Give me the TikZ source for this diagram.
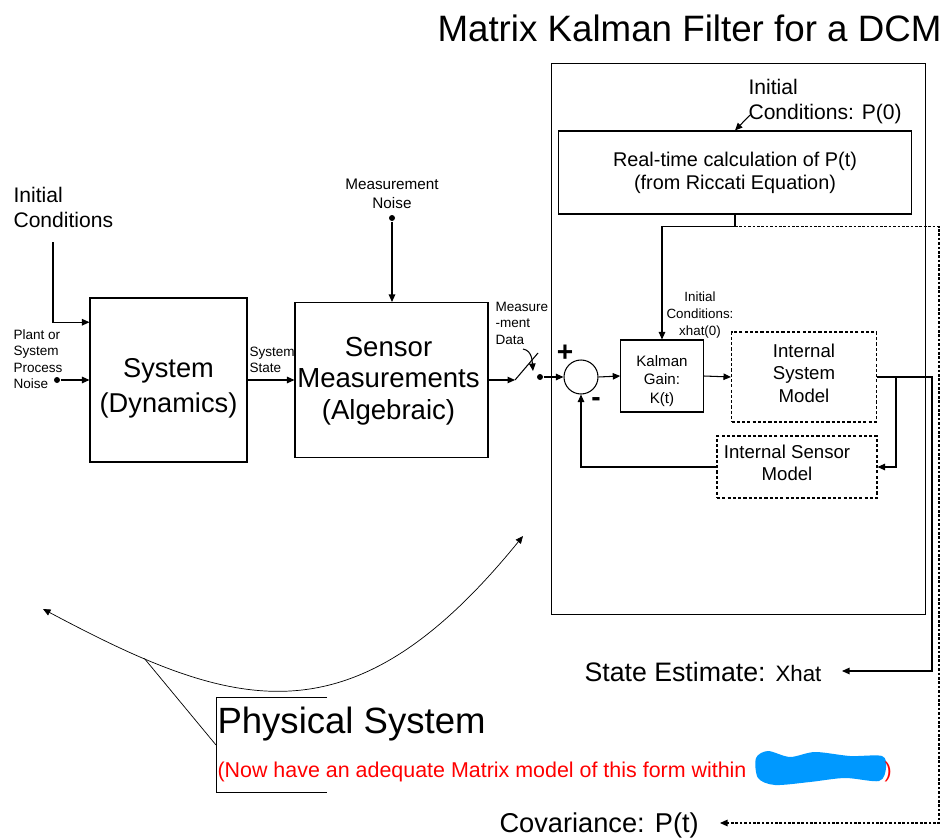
\documentclass[tikz,border=0pt]{standalone}
\usepackage{fontspec}
\setmainfont{Liberation Sans}
\usepackage{tikz}
\usetikzlibrary{arrows.meta,calc}
\definecolor{notered}{RGB}{255,0,0}
\definecolor{scribble}{RGB}{0,153,255}

\newcommand{\fsz}[2]{\fontsize{#1}{#2}\selectfont}

\begin{document}
\begin{tikzpicture}[x=0.02cm,y=-0.02cm,line width=0.6pt,
  flow/.style={-{Triangle[length=1.5mm,width=1.3mm]}},
  blk/.style={draw,rectangle,inner sep=0pt,align=center},
  model/.style={blk,dash pattern=on 1.8pt off 1.2pt},
  junc/.style={circle,fill,inner sep=0pt,minimum size=1.2mm},
  txt/.style={inner sep=0pt,align=left,anchor=west},
  inbox/.style={inner sep=0pt,align=center}]
  \useasboundingbox (0,0) rectangle (944,838);

  % ── Title ──
  \node[txt,font=\fsz{20.9}{25}] (title) at (437,28) {Matrix Kalman Filter for a DCM};

  % ── Plant: system and sensors ──
  \node[blk,minimum width=3.14cm,minimum height=3.28cm] (sys) at (168.5,380) {};
  \node[inbox,font=\fsz{15.5}{20}] (syslbl) at ($(sys.center)+(0,8)$) {System\\(Dynamics)};
  \node[blk,minimum width=3.86cm,minimum height=3.10cm] (sens) at (391.5,380) {};
  \node[inbox,font=\fsz{15.7}{18}] (senslbl) at ($(sens.center)+(-3,1)$) {Sensor\\Measurements\\(Algebraic)};

  % initial conditions and process noise into the plant
  \node[txt,font=\fsz{12}{14.2}] (icsys) at (13,207) {Initial\\Conditions};
  \coordinate (icdrop) at (53,242);
  \draw[flow] (icdrop) |- ($(sys.north west)!0.15!(sys.south west)$);
  \node[txt,font=\fsz{7.7}{9.4}] (pnlbl) at (13,359) {Plant or\\System\\Process\\Noise};
  \node[junc] (pnoise) at (57,380) {};
  \draw[flow] (pnoise) -- (sys.west);

  \draw[flow] (sys.east) -- (sens.west);
  \node[txt,font=\fsz{7.7}{9.4}] (sslbl) at (249,360) {System\\State};

  \node[inbox,font=\fsz{8.7}{10.5}] (mnlbl) at (392,194) {Measurement\\Noise};
  \node[junc] (mnoise) at (392,218) {};
  \draw[flow] (mnoise) -- (mnoise |- sens.north);

  % sampler switch
  \coordinate (swin) at (515,380);
  \coordinate (swtip) at (538,353);
  \coordinate (swarc) at (523,349);
  \coordinate (swhit) at (533,371);
  \node[junc] (swout) at (540,377) {};
  \draw[flow] (sens.east) -- (swin);
  \draw (swin) -- (swtip);
  \draw[flow] (swarc) to[out=-10,in=95] (swhit);
  \node[txt,font=\fsz{7.7}{9.4}] (mdlbl) at (495,323) {Measure\\-ment\\Data};

  % ── Kalman filter ──
  \node[blk,minimum width=7.48cm,minimum height=11.04cm] (kf) at (738.5,339) {};
  \node[blk,minimum width=7.08cm,minimum height=1.66cm,font=\fsz{11.3}{13}] (ric) at (735,172.5) {Real-time calculation of P(t)\\(from Riccati Equation)};
  \node[txt,font=\fsz{12}{14.2}] (p0lbl) at (748,102) {Initial\\Conditions: P(0)};
  \coordinate (p0tail) at (750,115);
  \draw[flow] (p0tail) -- (ric.north);

  \node[circle,draw,minimum size=0.68cm,inner sep=0pt] (sum) at (581,377) {};
  \node[inner sep=0pt,font=\fsz{16}{16}\bfseries] (plus) at (565,353) {+};
  \node[inner sep=0pt,font=\fsz{16}{16}\bfseries] (minus) at (596,402) {-};

  \node[blk,minimum width=1.65cm,minimum height=1.44cm] (gain) at (662,376) {};
  \node[inbox,font=\fsz{8.6}{10.5}] (gainlbl) at ($(gain.center)+(0,5)$) {Kalman\\Gain:\\K(t)};
  \node[inbox,font=\fsz{7.6}{9.6}] (x0lbl) at (700,315) {Initial\\Conditions:\\xhat(0)};
  \node[model,minimum width=2.9cm,minimum height=1.8cm] (ism) at (804,377) {};
  \node[inbox,font=\fsz{10.6}{12.8}] (ismlbl) at ($(ism.center)+(0,-4)$) {Internal\\System\\Model};
  \node[model,minimum width=3.2cm,minimum height=1.24cm] (isens) at (797,467) {};
  \node[inbox,font=\fsz{10.6}{12.5}] (isenslbl) at ($(isens.center)+(-10,-4)$) {Internal Sensor\\Model};

  \draw[flow] (swout) -- (sum.west);
  \draw[flow] (sum.east) -- (gain.west);
  \draw[flow] (gain.east) -- (ism.west);
  \draw[flow] (ric.south) -- ++(0,12) coordinate (rtap) -| (gain.north);

  % predicted measurement fed back to the summer
  \coordinate (fbtap) at ($(ism.east)+(19,0)$);
  \draw[flow] (fbtap) |- (isens.east);
  \draw[flow] (isens.west) -| (sum.south);

  % ── Outputs ──
  \node[txt] (xhat) at (584,672) {\fsz{15.2}{17}State Estimate: \fsz{12.7}{14}Xhat};
  \coordinate (xhatin) at (842,671);
  \draw[flow] (ism.east) -- ++(55,0) |- (xhatin);
  \node[txt,font=\fsz{15.5}{18}] (cov) at (499,825) {Covariance: P(t)};
  \coordinate (covin) at (720,823);
  \draw[flow,dash pattern=on 1.5pt off 1pt] (rtap) -- ++(204,0) |- (covin);

  % ── Physical system callout ──
  \coordinate (arcl) at (43,609);
  \coordinate (arcr) at (523,536);
  \draw[{Triangle[length=1.5mm,width=1.3mm]}-{Triangle[length=1.5mm,width=1.3mm]},line width=0.4pt]
    (arcl) .. controls (233,710) and (351,748) .. (arcr) coordinate[pos=0.19] (arclead);
  \coordinate (brk) at (216,745);
  \draw[line width=0.4pt] (arclead) -- (brk);
  \draw[line width=0.4pt] (327,697) -- (216,697) -- (216,792) -- (327,792);

  \node[txt,font=\fsz{20.8}{24}] (phys) at (217,724) {Physical System};
  \node[txt,font=\fsz{12.2}{14},text=notered] (note) at (217,772) {(Now have an adequate Matrix model of this form within};
  \fill[scribble] plot[smooth cycle] coordinates {(756,758) (768,751) (790,757) (815,752) (850,756) (882,756) (886,768) (879,781) (845,778) (810,782) (775,785) (758,778)};
  \node[txt,font=\fsz{12.2}{14},text=notered] (noteend) at (884,772) {)};
\end{tikzpicture}
\end{document}
